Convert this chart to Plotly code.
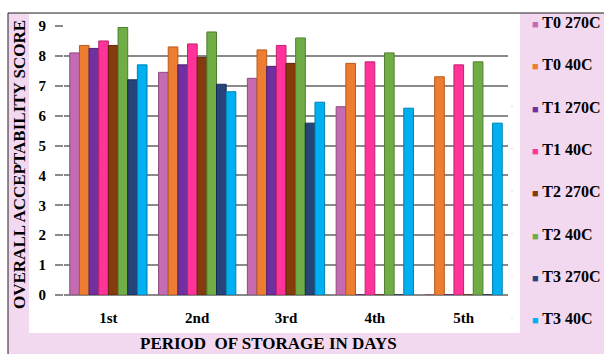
import plotly.graph_objects as go

# Storage periods (categories on the x axis)
periods = ["1st", "2nd", "3rd", "4th", "5th"]

# Overall acceptability score per treatment / storage temperature
t0_270 = [8.1, 7.45, 7.25, 6.3, 0]
t0_40 = [8.35, 8.3, 8.2, 7.75, 7.3]
t1_270 = [8.25, 7.7, 7.65, 0, 0]
t1_40 = [8.5, 8.4, 8.35, 7.8, 7.7]
t2_270 = [8.35, 7.95, 7.75, 0, 0]
t2_40 = [8.95, 8.8, 8.6, 8.1, 7.8]
t3_270 = [7.2, 7.05, 5.75, 0, 0]
t3_40 = [7.7, 6.8, 6.45, 6.25, 5.75]

series_names = ["T0 270C", "T0 40C", "T1 270C", "T1 40C",
                "T2 270C", "T2 40C", "T3 270C", "T3 40C"]
series_values = [t0_270, t0_40, t1_270, t1_40, t2_270, t2_40, t3_270, t3_40]
colors = ["#c46bb2", "#ed7d31", "#7030a0", "#ff3399",
          "#843c0c", "#70ad47", "#264478", "#00b0f0"]
edges = ["#8f4a82", "#b85a1c", "#4d1f70", "#c0226f",
         "#5a2707", "#4f7d30", "#172b50", "#0080b0"]

serif = "Liberation Serif"
pink = "#f3d9ef"

fig = go.Figure()

# bars (legend entries are added separately with small square keys)
for name, vals, col, edge in zip(series_names, series_values, colors, edges):
    fig.add_trace(go.Bar(
        x=periods, y=vals, name=name, showlegend=False, legendgroup=name,
        marker=dict(color=col, line=dict(color=edge, width=1)),
    ))

for name, col in zip(series_names, colors):
    key = f"<span style='color:{col};font-size:11px'>■</span> {name}"
    fig.add_trace(go.Scatter(
        x=[None], y=[None], mode="markers", name=key, legendgroup=name,
        marker=dict(size=1, opacity=0),
    ))

W, H = 604, 354
L, R, T, B = 64, 96, 26, 59
pw, ph = W - L - R, H - T - B


def px(x):
    return (x - L) / pw


def py(y):
    return (H - B - y) / ph


shapes = [
    # white strip above the frame
    dict(type="rect", xref="paper", yref="paper", layer="below",
         x0=px(-5), x1=px(610), y0=py(13), y1=py(-5),
         fillcolor="white", line=dict(width=0)),
    # white strip left of the frame
    dict(type="rect", xref="paper", yref="paper", layer="below",
         x0=px(-5), x1=px(8), y0=py(360), y1=py(-5),
         fillcolor="white", line=dict(width=0)),
    # white chart area
    dict(type="rect", xref="paper", yref="paper", layer="below",
         x0=px(29), x1=px(520), y0=py(333), y1=py(13.5),
         fillcolor="white", line=dict(width=0)),
    # frame border (top and left edges)
    dict(type="line", xref="paper", yref="paper", layer="below",
         x0=px(8), x1=px(610), y0=py(13), y1=py(13),
         line=dict(color="#222222", width=1)),
    dict(type="line", xref="paper", yref="paper", layer="below",
         x0=px(8), x1=px(8), y0=py(13), y1=py(360),
         line=dict(color="#222222", width=1)),
]

annotations = [
    dict(text="OVERALL ACCEPTABILITY SCORE", textangle=-90,
         xref="paper", yref="paper", x=px(19), y=py(165),
         xanchor="center", yanchor="middle", showarrow=False,
         font=dict(family=serif, size=17, color="black", weight="bold")),
    dict(text="PERIOD&nbsp; OF STORAGE IN DAYS",
         xref="paper", yref="paper", x=px(268), y=py(343),
         xanchor="center", yanchor="middle", showarrow=False,
         font=dict(family=serif, size=17, color="black", weight="bold")),
]

fig.update_layout(
    width=W, height=H,
    margin=dict(l=L, r=R, t=T, b=B, pad=0, autoexpand=False),
    paper_bgcolor=pink, plot_bgcolor="rgba(0,0,0,0)",
    barmode="group", bargap=0.13, bargroupgap=0,
    shapes=shapes, annotations=annotations,
    showlegend=True,
    legend=dict(
        xref="container", yref="container",
        x=492 / W, y=1 - 5 / H, xanchor="left", yanchor="top",
        bgcolor="rgba(0,0,0,0)", borderwidth=0,
        tracegroupgap=18.5, itemwidth=30, maxheight=H,
        font=dict(family=serif, size=16, color="black", weight="bold"),
    ),
)

fig.update_xaxes(
    automargin=False,
    showgrid=False, showline=False, zeroline=False, ticks="",
    ticklabelstandoff=12,
    tickfont=dict(family=serif, size=15, color="black", weight="bold"),
)
fig.update_yaxes(
    automargin=False,
    range=[0, 9], dtick=1, showgrid=True, gridcolor="#8a8a8a", gridwidth=1.5,
    zeroline=True, zerolinecolor="#8a8a8a", zerolinewidth=1.5,
    showline=False, ticks="outside", ticklen=8, tickcolor="#8a8a8a",
    tickwidth=1.5, ticklabelstandoff=6,
    tickfont=dict(family=serif, size=15, color="black", weight="bold"),
)

fig.write_html("out.html")
